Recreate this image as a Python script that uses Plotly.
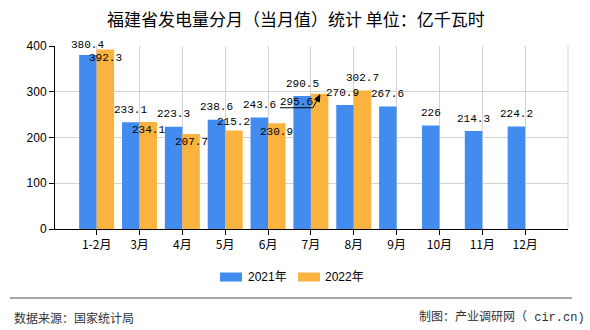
import plotly.graph_objects as go

categories = ["1-2月", "3月", "4月", "5月", "6月", "7月", "8月", "9月", "10月", "11月", "12月"]
series_names = ["2021年", "2022年"]
values_2021 = [380.4, 233.1, 223.3, 238.6, 243.6, 290.5, 270.9, 267.6, 226, 214.3, 224.2]
values_2022 = [392.3, 234.1, 207.7, 215.2, 230.9, 295.6, 302.7]
y_ticks = [0, 100, 200, 300, 400]

title_text = "福建省发电量分月（当月值）统计 单位：亿千瓦时"
source_text = "数据来源：国家统计局"
maker_text = "制图：产业调研网（ cir.cn)"

BLUE = "#428BEF"
ORANGE = "#FBB33F"

# label placement (pixels): extra x shift and y shift of label centre from bar top
lab21_dx = [0, 0, 0, 0, 0, 0, -3, 0, 0, 0, 0]
lab21_dy = [10, 12.5, 12.5, 12.5, 12.5, 12, 12, 12.5, 12.5, 12, 12.5]
lab22_dx = [0, 0, 0, 0, 0, -23, 0]
lab22_dy = [-8.5, -8, -8, 8.5, -8.5, -8, 12.5]

L, R, T, B = 55, 22, 46, 101
W, H = 590, 330
PW, PH = W - L - R, H - T - B


def px(x):
    return (x - L) / PW


def py(y):
    return (H - B - y) / PH


BAR_HALF = 8.74

fig = go.Figure()
fig.add_trace(go.Bar(x=categories, y=values_2021, name=series_names[0],
                     marker=dict(color=BLUE, line=dict(width=0)), showlegend=False))
fig.add_trace(go.Bar(x=categories[:len(values_2022)], y=values_2022, name=series_names[1],
                     marker=dict(color=ORANGE, line=dict(width=0)), showlegend=False))

label_font = dict(family="Liberation Mono, DejaVu Sans Mono, monospace", size=11, color="#000")
annotations = []
for i, v in enumerate(values_2021):
    annotations.append(dict(xref="x", yref="y", x=categories[i], y=v, text=str(v),
                            showarrow=False, xanchor="center", yanchor="middle",
                            xshift=-BAR_HALF + lab21_dx[i], yshift=lab21_dy[i], font=label_font))
for i, v in enumerate(values_2022):
    annotations.append(dict(xref="x", yref="y", x=categories[i], y=v, text=str(v),
                            showarrow=False, xanchor="center", yanchor="middle",
                            xshift=BAR_HALF + lab22_dx[i], yshift=lab22_dy[i], font=label_font))

# title
annotations.append(dict(xref="paper", yref="paper", x=px(296), y=py(18), text=title_text,
                        showarrow=False, xanchor="center", yanchor="middle",
                        font=dict(family="Noto Sans CJK SC", size=17, color="#000")))
# footer
foot_font = dict(family="Noto Sans CJK SC", size=12, color="#333")
annotations.append(dict(xref="paper", yref="paper", x=px(12), y=py(317), text=source_text,
                        showarrow=False, xanchor="left", yanchor="middle", font=foot_font))
annotations.append(dict(xref="paper", yref="paper", x=px(587), y=py(317), text=maker_text,
                        showarrow=False, xanchor="right", yanchor="middle",
                        font=dict(family="Liberation Mono, Noto Sans CJK SC", size=12, color="#333")))

# custom legend
leg_font = dict(family="Liberation Sans, Noto Sans CJK SC", size=12, color="#000")
annotations.append(dict(xref="paper", yref="paper", x=px(246), y=py(277), text=series_names[0],
                        showarrow=False, xanchor="left", yanchor="middle", font=leg_font))
annotations.append(dict(xref="paper", yref="paper", x=px(323), y=py(277), text=series_names[1],
                        showarrow=False, xanchor="left", yanchor="middle", font=leg_font))

shapes = [
    dict(type="rect", xref="paper", yref="paper", x0=px(220), x1=px(242), y0=py(272.5), y1=py(281.5),
         fillcolor=BLUE, line=dict(width=0)),
    dict(type="rect", xref="paper", yref="paper", x0=px(298), x1=px(320), y0=py(272.5), y1=py(281.5),
         fillcolor=ORANGE, line=dict(width=0)),
    dict(type="line", xref="paper", yref="paper", x0=px(10), x1=px(572), y0=py(298), y1=py(298),
         line=dict(color="#888", width=1.5)),
    # right border of grid
    dict(type="line", xref="paper", yref="paper", x0=1, x1=1, y0=0, y1=1,
         line=dict(color="#d3d3d3", width=1)),
    # leader line for the 7月 2022 label
    dict(type="path", xref="x", yref="y", xsizemode="pixel", ysizemode="pixel",
         xanchor=categories[5], yanchor=values_2022[5],
         path="M -31,-14 L 2,-14 L 8,-3", line=dict(color="#000", width=1)),
    dict(type="path", xref="x", yref="y", xsizemode="pixel", ysizemode="pixel",
         xanchor=categories[5], yanchor=values_2022[5],
         path="M 9,-1 L 3.8,-5.5 L 8.4,-8.2 Z", fillcolor="#000", line=dict(color="#000", width=1)),
]

fig.update_layout(
    width=W, height=H,
    margin=dict(l=L, r=R, t=T, b=B, pad=0),
    paper_bgcolor="#fff", plot_bgcolor="#fff",
    barmode="group", bargap=0.184, bargroupgap=0,
    annotations=annotations, shapes=shapes,
    showlegend=False,
)
fig.update_xaxes(type="category", range=[-0.972, 11.0], showgrid=True, gridcolor="#d3d3d3", gridwidth=1,
                 showline=True, linecolor="#000", linewidth=1, ticks="outside", ticklen=5, tickcolor="#000",
                 tickfont=dict(family="Noto Sans CJK SC", size=12, color="#000"), fixedrange=True)
fig.update_yaxes(range=[0, 400], tickvals=y_ticks, showgrid=True, gridcolor="#d3d3d3", gridwidth=1,
                 showline=True, linecolor="#000", linewidth=1, ticks="outside", ticklen=5, tickcolor="#000",
                 zeroline=False, tickfont=dict(family="Liberation Sans", size=12, color="#000"), fixedrange=True)

fig.write_html("out.html", config={"displayModeBar": False})
